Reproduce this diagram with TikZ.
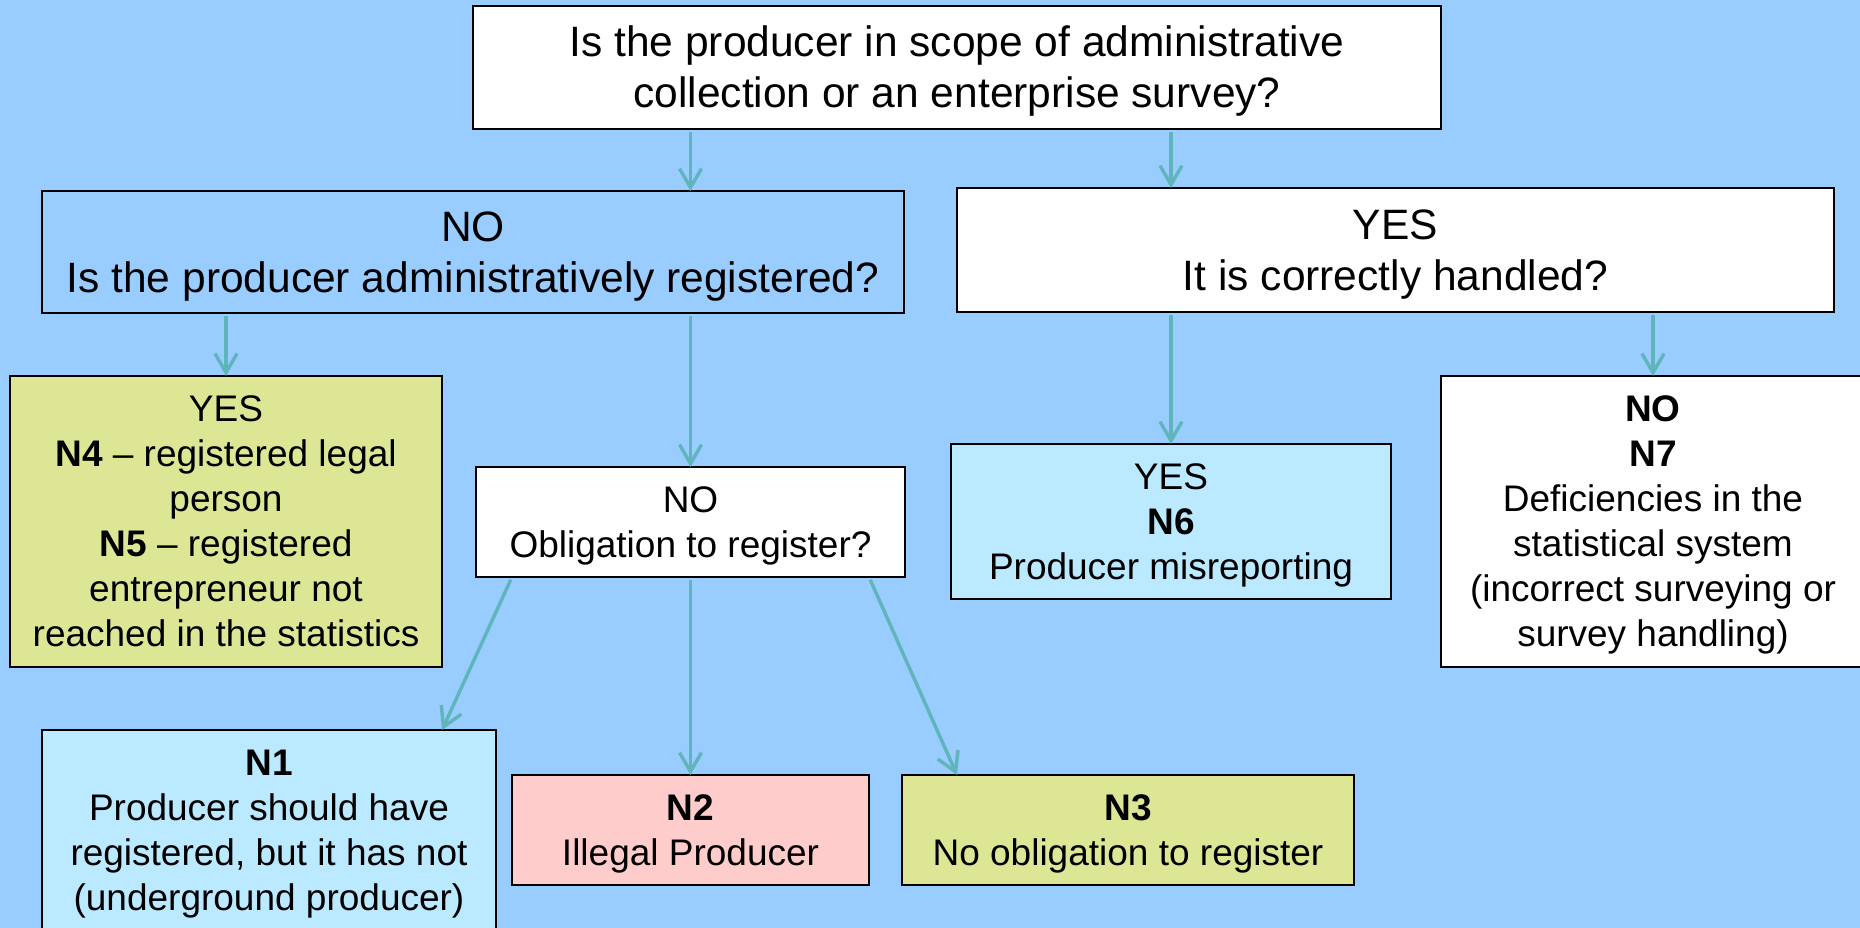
\documentclass[tikz,border=0pt]{standalone}
\usepackage{fontspec}
\setmainfont{Liberation Sans}
\usetikzlibrary{arrows.meta}
\definecolor{bg}{RGB}{153,204,255}
\definecolor{tealline}{RGB}{95,181,186}
\definecolor{boxgreen}{RGB}{220,230,148}
\definecolor{boxcyan}{RGB}{187,233,255}
\definecolor{boxpink}{RGB}{255,204,204}
\newcommand\ls{\rule[-0.25em]{0pt}{1.2em}}
\begin{document}
\begin{tikzpicture}[x=1pt,y=-1pt,
  box/.style={draw=black, line width=2.4pt, inner sep=0pt, outer sep=0pt, align=center},
  big/.style={font=\fontsize{42.5}{51}\selectfont},
  small/.style={font=\fontsize{37}{45}\selectfont},
  arr/.style={draw=tealline, line width=3.4pt, shorten <=3pt, -{Straight Barb[length=19pt,width=22pt]}}]
\fill[bg] (0,0) rectangle (1860,928);
\useasboundingbox (0,0) rectangle (1860,928);
\clip (0,0) rectangle (1860,928);

\node[box, big, fill=white, minimum width=968, minimum height=123] (top) at (957,67.5)
  {\ls Is the producer in scope of administrative\\collection or an enterprise survey?\ls};
\node[box, big, fill=bg, line width=2pt, minimum width=862, minimum height=122] (noreg) at (473,252)
  {\ls NO\\Is the producer administratively registered?\ls};
\node[box, big, fill=white, minimum width=877, minimum height=124] (yes) at (1395.5,250)
  {\ls YES\\It is correctly handled?\ls};

\node[box, small, fill=boxgreen, minimum width=432, minimum height=291] (n45) at (226,521.5)
  {\ls YES\\\textbf{N4} – registered legal\\person\\\textbf{N5} – registered\\entrepreneur not\\reached in the statistics\ls};
\node[box, small, fill=white, minimum width=429, minimum height=110] (oblig) at (690.5,522)
  {\ls NO\\Obligation to register?\ls};
\node[box, small, fill=boxcyan, minimum width=440, minimum height=155] (n6) at (1171,521.5)
  {\ls YES\\\textbf{N6}\\Producer misreporting\ls};
\node[box, small, fill=white, minimum width=424, minimum height=291] (n7) at (1653,521.5)
  {\ls\textbf{NO}\\\textbf{N7}\\Deficiencies in the\\statistical system\\(incorrect surveying or\\survey handling)\ls};

\node[box, small, fill=boxcyan, minimum width=454, minimum height=201] (n1) at (269,830.5)
  {\ls\textbf{N1}\\Producer should have\\registered, but it has not\\(underground producer)\ls};
\node[box, small, fill=boxpink, minimum width=357, minimum height=110] (n2) at (690.5,830)
  {\ls\textbf{N2}\\Illegal Producer\ls};
\node[box, small, fill=boxgreen, minimum width=452, minimum height=110] (n3) at (1128,830)
  {\ls\textbf{N3}\\No obligation to register\ls};

\draw[arr] (top.south -| oblig.north) -- (noreg.north -| oblig.north);
\draw[arr] (top.south -| n6.north) -- (yes.north -| n6.north);
\draw[arr] (noreg.south -| n45.north) -- (n45.north);
\draw[arr] (noreg.south -| oblig.north) -- (oblig.north);
\draw[arr] (yes.south -| n6.north) -- (n6.north);
\draw[arr] (yes.south -| n7.north) -- (n7.north);
\draw[arr] ([xshift=36pt]oblig.south west) -- ([xshift=-54pt]n1.north east);
\draw[arr] (oblig.south) -- (n2.north);
\draw[arr] ([xshift=-36pt]oblig.south east) -- ([xshift=55pt]n3.north west);
\end{tikzpicture}
\end{document}
